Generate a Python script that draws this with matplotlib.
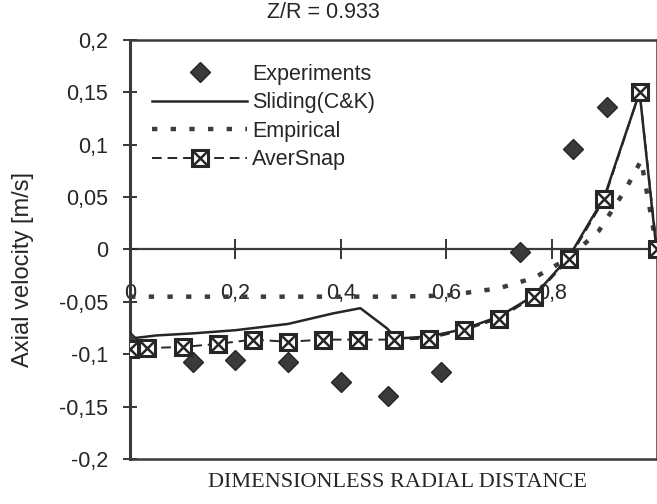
import numpy as np
import matplotlib.pyplot as plt
from matplotlib.legend_handler import HandlerTuple

# datos (Z/R = 0.933)
exp_x = [0, 0.12, 0.2, 0.3, 0.4, 0.49, 0.59, 0.74, 0.84, 0.905]
exp_y = [-0.088, -0.107, -0.105, -0.107, -0.126, -0.140, -0.117, -0.002, 0.096, 0.136]

slid_x = [0, 0.05, 0.12, 0.2, 0.3, 0.385, 0.437, 0.487, 0.506, 0.567, 0.633,
          0.7, 0.767, 0.833, 0.9, 0.967, 1.0]
slid_y = [-0.085, -0.082, -0.080, -0.077, -0.071, -0.061, -0.056, -0.075, -0.085,
          -0.083, -0.076, -0.064, -0.044, -0.007, 0.05, 0.150, -0.005]

emp_x = [0, 0.1, 0.2, 0.3, 0.4, 0.5, 0.6, 0.7, 0.767, 0.833, 0.89, 0.94, 0.97, 1.0]
emp_y = [-0.045, -0.045, -0.045, -0.045, -0.045, -0.045, -0.044, -0.037, -0.027,
         -0.008, 0.018, 0.057, 0.085, 0.0]

aver_x = [0, 0.033, 0.1, 0.167, 0.233, 0.3, 0.367, 0.433, 0.5, 0.567, 0.633,
          0.7, 0.767, 0.833, 0.9, 0.967, 1.0]
aver_y = [-0.095, -0.094, -0.093, -0.090, -0.086, -0.088, -0.086, -0.086, -0.086,
          -0.085, -0.077, -0.066, -0.045, -0.009, 0.048, 0.150, 0.0]

yticks = [-0.2, -0.15, -0.1, -0.05, 0, 0.05, 0.1, 0.15, 0.2]
ytick_labels = ['-0,2', '-0,15', '-0,1', '-0,05', '0', '0,05', '0,1', '0,15', '0,2']
xticks = [0, 0.2, 0.4, 0.6, 0.8]
xtick_labels = ['0', '0,2', '0,4', '0,6', '0,8']

plt.rcParams['font.family'] = ['Liberation Sans', 'DejaVu Sans']
ink = '#262626'

fig = plt.figure(figsize=(6.57, 5.04), dpi=100)
ax = fig.add_axes([0.198, 0.089, 0.802, 0.832])

# curvas
p_exp, = ax.plot(exp_x, exp_y, 'D', color='#3a3a3a', ms=10, mec=ink, zorder=5)
p_slid, = ax.plot(slid_x, slid_y, '-', color=ink, lw=1.8, zorder=4)
p_emp, = ax.plot(emp_x, emp_y, color='#3c3c3c', lw=3.2, ls=(0, (1.2, 3.0)), zorder=3)
p_aver, = ax.plot(aver_x, aver_y, color=ink, lw=1.4, ls=(0, (5, 3)), marker='s',
                  ms=12, mfc='white', mec=ink, mew=2.2, zorder=6)
p_aver_x, = ax.plot(aver_x, aver_y, ls='none', marker='x', ms=11, mec=ink,
                    mew=1.8, zorder=7)

ax.set_xlim(0, 1.0)
ax.set_ylim(-0.2, 0.2)

# eje y
ax.set_yticks(yticks)
ax.set_yticklabels(ytick_labels)
ax.tick_params(axis='y', direction='inout', length=10, width=1.3, pad=11,
               labelsize=15.5, colors=ink)
ax.set_xticks([])
for s in ax.spines.values():
    s.set_color('#3a3a3a')
    s.set_linewidth(1.8)
ax.spines['left'].set_linewidth(2.2)

# eje x cruzando en y = 0, etiquetas por debajo
sec = ax.secondary_xaxis(0.5)
sec.set_alignment('bottom')
sec.set_xticks(xticks)
sec.set_xticklabels(xtick_labels)
sec.tick_params(direction='inout', length=14, width=1.3, pad=17,
                labelsize=15.5, colors=ink)
sec.spines['bottom'].set_color('#3a3a3a')
sec.spines['bottom'].set_linewidth(1.6)

# leyenda
ax.legend([p_exp, p_slid, p_emp, (p_aver, p_aver_x)],
          ['Experiments', 'Sliding(C&K)', 'Empirical', 'AverSnap'],
          handler_map={tuple: HandlerTuple(ndivide=1)},
          loc='upper left', bbox_to_anchor=(0.042, 0.943), borderaxespad=0,
          borderpad=0, frameon=False, fontsize=15.5, handlelength=4.4,
          handletextpad=0.25, labelspacing=0.35, numpoints=1, labelcolor=ink)

# textos
fig.text(0.492, 0.975, 'Z/R = 0.933', ha='center', va='center', fontsize=15.5, color=ink)
fig.text(0.605, 0.042, 'DIMENSIONLESS RADIAL DISTANCE', ha='center', va='center',
         fontsize=16, family=['Liberation Serif', 'DejaVu Serif'], color=ink)
fig.text(0.035, 0.466, 'Axial velocity [m/s]', ha='center', va='center',
         rotation=90, fontsize=17, color=ink)

fig.savefig('out.png', dpi=100)
